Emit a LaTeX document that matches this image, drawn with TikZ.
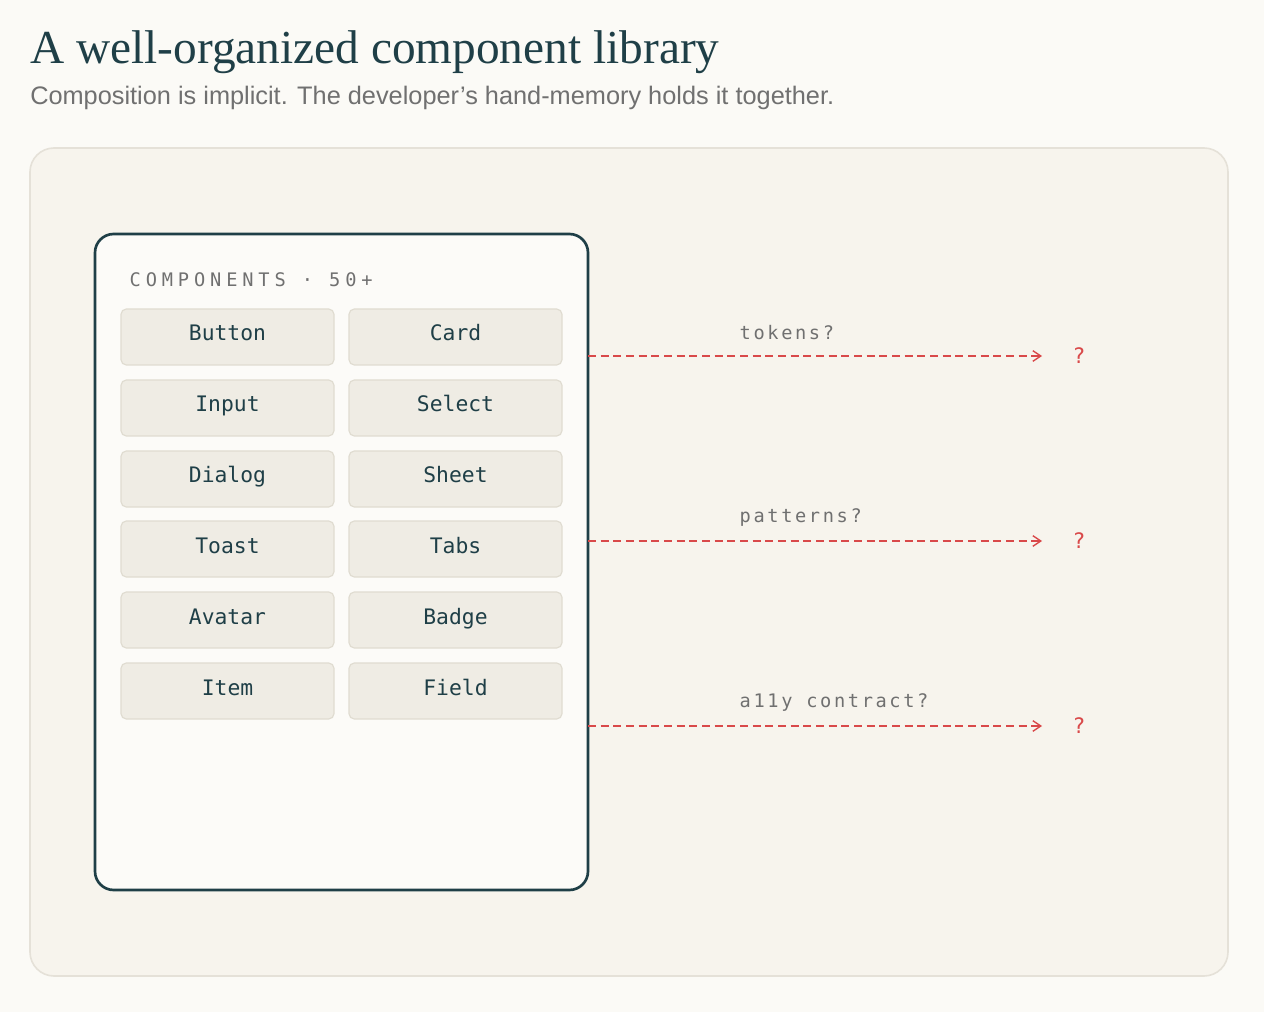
\documentclass[tikz,border=0pt]{standalone}
\usepackage{fontspec}
\setmainfont{Liberation Serif}
\setsansfont{Liberation Sans}
\setmonofont{DejaVu Sans Mono}
\usetikzlibrary{arrows.meta}
\definecolor{bgc}{HTML}{FBFAF6}
\definecolor{panelc}{HTML}{F7F4ED}
\definecolor{panelb}{HTML}{E5E1D8}
\definecolor{cardc}{HTML}{FCFBF8}
\definecolor{dark}{HTML}{1F3F47}
\definecolor{btnc}{HTML}{EFECE4}
\definecolor{btnb}{HTML}{E0DCD1}
\definecolor{grayt}{HTML}{707070}
\definecolor{redc}{HTML}{D9494A}
\begin{document}
\begin{tikzpicture}[x=0.75pt,y=-0.75pt,
  btn/.style={draw=btnb,fill=btnc,rounded corners=4pt,line width=0.9pt,minimum width=213*0.75pt,minimum height=56*0.75pt,inner sep=0pt,text height=8.5pt,text depth=2.5pt,font=\ttfamily\fontsize{16}{16}\selectfont,text=dark},
  lbl/.style={font=\ttfamily\fontsize{14}{14}\selectfont\addfontfeatures{LetterSpace=14},text=grayt,anchor=west},
  q/.style={font=\ttfamily\fontsize{16}{16}\selectfont,text=redc},
  redarrow/.style={draw=redc,line width=1pt,dash pattern=on 6pt off 3.5pt,-{Straight Barb[length=6pt,width=8pt]}}]
\fill[bgc] (0,0) rectangle (1264,1012);
\useasboundingbox (0,0) rectangle (1264,1012);
\node[anchor=base west,inner sep=0pt,text=dark,font=\fontsize{35.5}{35.5}\selectfont] (title) at (30,64) {A well-organized component library};
\node[anchor=base west,inner sep=0pt,text=grayt,font=\sffamily\fontsize{19}{19}\selectfont] (sub) at (30,105) {Composition is implicit. The developer’s hand-memory holds it together.};
\draw[panelb,fill=panelc,line width=1.2pt,rounded corners=18pt] (30,148) rectangle (1228,976);
\draw[dark,fill=cardc,line width=2pt,rounded corners=14pt] (95,234) rectangle (588,890);
\coordinate (cardr1) at (588,356);
\coordinate (cardr2) at (588,541);
\coordinate (cardr3) at (588,726);
\node[lbl,font=\ttfamily\fontsize{14}{14}\selectfont\addfontfeatures{LetterSpace=26}] (hdr) at (125,280) {COMPONENTS · 50+};
\foreach \a/\b/\y [count=\i] in {Button/Card/337,Input/Select/408,Dialog/Sheet/479,Toast/Tabs/549,Avatar/Badge/620,Item/Field/691}{
  \node[btn] (l\i) at (227.5,\y) {\a};
  \node[btn] (r\i) at (455.5,\y) {\b};
}
\foreach \y/\t [count=\i] in {356/tokens?,541/patterns?,726/a11y contract?}{
  \node[q] (q\i) at (1079,\y) {?};
  \coordinate (e\i) at (1042,\y);
  \draw[redarrow] (cardr\i) -- (e\i);
  \node[lbl] (t\i) at (735,\y-23) {\t};
}
\end{tikzpicture}
\end{document}
